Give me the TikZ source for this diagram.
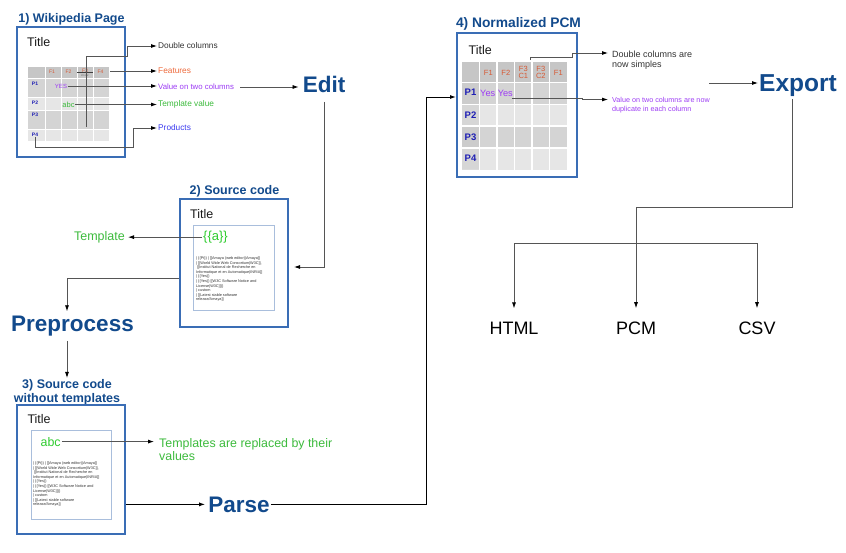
\documentclass[tikz,border=0pt]{standalone}
\usepackage{fontspec}
\setmainfont{Liberation Sans}
\usetikzlibrary{arrows.meta,calc}
\definecolor{ttl}{HTML}{124A8C}
\definecolor{frm}{HTML}{3A6DB5}
\definecolor{inn}{HTML}{A9BEDC}
\definecolor{grn}{HTML}{3DBB3D}
\definecolor{grnb}{HTML}{2ECC2E}
\definecolor{org}{HTML}{EE6A3C}
\definecolor{orgt}{HTML}{D65A36}
\definecolor{prp}{HTML}{9D3DF5}
\definecolor{blu}{HTML}{3B3BF0}
\definecolor{rowb}{HTML}{1E1EB4}
\definecolor{cdark}{HTML}{C6C6C6}
\definecolor{cmid}{HTML}{D4D4D4}
\definecolor{clight}{HTML}{E6E6E6}
\definecolor{lin}{HTML}{555555}
\newcommand\fsz[2]{\fontsize{#1}{#2}\selectfont}
\newcommand\srccode{| \{\{Pt\}\} | [[Amaya (web editor)|Amaya]]\\
| [[World Wide Web Consortium|W3C]],\\{}
[[Institut National de Recherche en\\
Informatique et en Automatique|INRIA]]\\
| \{\{Yes\}\}\\
| \{\{Yes\}\} [[W3C Software Notice and\\
License|W3C]]\}\}\\
| custom\\
| [[Latest stable software\\
release/Amaya]]}
\begin{document}
\begin{tikzpicture}[x=1pt,y=-1pt,
  ar/.style={draw=lin, line width=0.8pt, -{Latex[length=6pt,width=4pt,color=black]}},
  arb/.style={draw=black, line width=1pt, -{Latex[length=6pt,width=4pt,color=black]}},
  bigw/.style={font=\fsz{22.5}{26}\bfseries, text=ttl, inner sep=1pt},
  sect/.style={font=\fsz{12.5}{14}\bfseries, text=ttl, inner sep=0pt},
  frame/.style={draw=frm, line width=1.8pt, inner sep=0pt},
  inbox/.style={draw=inn, line width=0.8pt, inner sep=0pt},
  ttlx/.style={font=\fsz{12.5}{14}, text=black!90, anchor=base west, inner sep=0pt},
  lbl/.style={font=\fsz{8.3}{10}, anchor=west, inner sep=1pt},
  tiny/.style={font=\fsz{3.8}{4.6}, align=left, anchor=north west, inner sep=0pt, text=black!80},
  wf/.style={font=\fsz{5}{6}, text=orgt, inner sep=0pt},
  wp/.style={font=\fsz{5}{6}\bfseries, text=rowb, inner sep=0pt},
  pf/.style={font=\fsz{7.5}{8}, text=orgt, inner sep=0pt, align=center},
  pp/.style={font=\fsz{9.5}{10}\bfseries, text=rowb, inner sep=0pt},
  outn/.style={font=\fsz{18}{20}, text=black, anchor=base, inner sep=1pt}]
\useasboundingbox (0,0) rectangle (846,552);
\fill[white] (0,0) rectangle (846,552);

% ---------- 1) Wikipedia page ----------
\node[sect, anchor=base] (t1) at (71.5,22.7) {1) Wikipedia Page};
\node[frame, minimum width=108pt, minimum height=130pt] (b1) at (71,92) {};
\node[ttlx] (ti1) at (27,46.7) {Title};
\fill[cdark] (28,67) rectangle (109,78);
\fill[cmid] (28,78) rectangle (109,97.5);
\fill[clight] (28,97.5) rectangle (109,110);
\fill[cmid] (28,110) rectangle (109,129.5);
\fill[clight] (28,129.5) rectangle (109,141);
\draw[white, line width=1pt] (45,67)--(45,141) (61,67)--(61,141) (77,67)--(77,141) (93,67)--(93,141)
  (28,78)--(109,78) (28,97.5)--(109,97.5) (28,110)--(109,110) (28,129.5)--(109,129.5);
\node[wf] (wf1) at (52,71.5) {F1};
\node[wf] (wf2) at (68.5,71.5) {F2};
\node[wf] (wf3) at (85,71) {F3};
\node[wf] (wf4) at (100.5,71.5) {F4};
\node[font=\fsz{2.5}{3}, text=black!70, inner sep=0pt] (wc) at (85,75.3) {C1 C2};
\draw[black!75, line width=0.6pt] (77,72.6) -- (93.3,72.6);
\node[wp] (wp1) at (35,84) {P1};
\node[wp] (wp2) at (35,103) {P2};
\node[wp] (wp3) at (35,115) {P3};
\node[wp] (wp4) at (35,135) {P4};
\node[font=\fsz{6}{7}, text=prp, inner sep=0.5pt] (wyes) at (61,86) {YES};
\node[font=\fsz{7.5}{8}, text=grn, inner sep=0.5pt] (wabc) at (68.5,104.5) {abc};
\coordinate (dcA) at (86,127);
\coordinate (featS) at (110,71);

\node[lbl, text=black!80] (dcl) at (157,46) {Double columns};
\node[lbl, text=org] (feat) at (157,71) {Features};
\node[lbl, text=prp, font=\fsz{7.8}{9}] (v2) at (157,87) {Value on two columns};
\node[lbl, text=grn] (tv) at (157,104.5) {Template value};
\node[lbl, text=blu] (prod) at (157,128) {Products};

\draw[ar] (dcA) |- (127,56) |- (dcl.west);
\draw[ar] (featS) -- (featS -| feat.west);
\draw[ar] (wyes.east) -- (wyes.east -| v2.west);
\draw[ar] (wabc.east) -- (wabc.east -| tv.west);
\draw[ar] (wp4.south) |- (133,147) |- (prod.west);

% ---------- Edit ----------
\node[bigw, anchor=base] (edit) at (324,92.5) {Edit};
\draw[ar] ($(v2.east)+(5,0)$) -- ($(v2.east -| edit.west)+(-3,0)$);

% ---------- 2) Source code ----------
\node[sect, anchor=base] (t2) at (234.5,194.3) {2) Source code};
\node[frame, minimum width=108pt, minimum height=128pt] (b2) at (234,263) {};
\node[ttlx] (ti2) at (190,218.3) {Title};
\node[inbox, minimum width=81pt, minimum height=85pt] (i2) at (233.5,267.5) {};
\node[font=\fsz{13}{14}, text=grnb, anchor=base west, inner sep=1pt] (tmpa) at (202,240.5) {\{\{a\}\}};
\node[tiny] (code2) at (196,256.5) {\srccode};
\node[font=\fsz{12.5}{14}, text=grn, anchor=base east, inner sep=0pt] (tmpl) at (125,240.5) {Template};
\draw[ar] (tmpa.west) -- ($(tmpa.west -| tmpl.east)+(3,0)$);
\coordinate (b2in) at (294,267);
\draw[ar] ([yshift=-8pt]edit.south) |- (b2in);

% ---------- Preprocess ----------
\node[bigw, anchor=base] (pre) at (72.5,331) {Preprocess};
\draw[ar] ([yshift=-15pt]b2.west) -| ([xshift=-5.5pt,yshift=3pt]pre.north);

% ---------- 3) Source code without templates ----------
\node[sect, align=center] (t3) at (67,392) {3) Source code\\without templates};
\draw[ar] ([xshift=-5.5pt,yshift=-4pt]pre.south) -- ([yshift=1pt]t3.north);
\node[frame, minimum width=108pt, minimum height=129pt] (b3) at (71,469.5) {};
\node[ttlx] (ti3) at (27.3,423.3) {Title};
\node[inbox, minimum width=80pt, minimum height=89pt] (i3) at (71,474.5) {};
\node[font=\fsz{12.4}{14}, text=grnb, anchor=base west, inner sep=1pt] (abc) at (39.5,446) {abc};
\node[tiny] (code3) at (33,461.5) {\srccode};
\node[font=\fsz{12.4}{13}, text=grn, align=left, anchor=north west, inner sep=0pt] (tpl) at (159,438.3) {Templates are replaced by their\\values};
\draw[ar] (abc.east) -- ($(abc.east -| tpl.west)+(-5,0)$);

% ---------- Parse ----------
\node[bigw, anchor=base] (parse) at (239,512) {Parse};
\draw[arb] (b3.east |- parse.west) -- ([xshift=-2pt]parse.west);
\coordinate (b4knee) at (426,97);
\coordinate (b4in) at (456,97);
\draw[arb] (parse.east) -| (b4knee) -- (b4in);

% ---------- 4) Normalized PCM ----------
\node[sect, anchor=base, font=\fsz{13.8}{15}\bfseries] (t4) at (518.5,27.3) {4) Normalized PCM};
\node[frame, minimum width=120pt, minimum height=144pt] (b4) at (517,105) {};
\node[ttlx] (ti4) at (468.5,54.3) {Title};
\fill[cdark] (462,62) rectangle (567,82.5);
\fill[cmid] (462,82.5) rectangle (567,104.5);
\fill[clight] (462,104.5) rectangle (567,126);
\fill[cmid] (462,126) rectangle (567,148);
\fill[clight] (462,148) rectangle (567,169.5);
\fill[black!20] (462,82.5) rectangle (479.5,104.5) (462,126) rectangle (479.5,148);
\fill[black!16] (462,104.5) rectangle (479.5,126) (462,148) rectangle (479.5,169.5);
\draw[white, line width=1.5pt] (479.5,62)--(479.5,169.5) (497,62)--(497,169.5) (514.5,62)--(514.5,169.5)
  (532,62)--(532,169.5) (549.5,62)--(549.5,169.5)
  (462,82.5)--(567,82.5) (462,104.5)--(567,104.5) (462,126)--(567,126) (462,148)--(567,148);
\node[pf] (pf1) at (488.3,72.5) {F1};
\node[pf] (pf2) at (505.8,72.5) {F2};
\node[pf, font=\fsz{7.5}{7.8}] (pf3) at (523.3,72.5) {F3\\C1};
\node[pf, font=\fsz{7.5}{7.8}] (pf4) at (540.8,72.5) {F3\\C2};
\node[pf] (pf5) at (558.3,72.5) {F1};
\node[pp] (pp1) at (470.5,92.7) {P1};
\node[pp] (pp2) at (470.5,115) {P2};
\node[pp] (pp3) at (470.5,137) {P3};
\node[pp] (pp4) at (470.5,158.5) {P4};
\node[font=\fsz{9.2}{10}, text=prp, anchor=west, inner sep=0pt] (yy) at (480,93) {Yes Yes};
\coordinate (f3top) at (530,60);
\coordinate (yesend) at (512,98);
\node[font=\fsz{9}{10}, text=black!80, align=left, anchor=north west, inner sep=0pt] (dcs) at (612,50.5) {Double columns are\\now simples};
\node[font=\fsz{7.2}{9}, text=prp, align=left, anchor=north west, inner sep=0pt] (v2n) at (612,96.8) {Value on two columns are now\\duplicate in each column};
\draw[ar] (f3top) |- (572,57) |- ($(dcs.north west)+(-4,2.5)$);
\draw[ar] (yesend) -- (582,98) |- ($(v2n.north west)+(-4,2.7)$);

% ---------- Export ----------
\node[bigw, anchor=base, font=\fsz{24.5}{28}\bfseries] (export) at (798,91.7) {Export};
\coordinate (expin) at (709,83);
\draw[ar] (expin) -- (expin -| export.west);
\node[outn] (html) at (514,334) {HTML};
\node[outn] (pcmo) at (636,334) {PCM};
\node[outn] (csv) at (757,334) {CSV};
\coordinate (barknee) at (636,207);
\coordinate (barmid) at (636,243);
\draw[ar] ([xshift=-6pt,yshift=-1pt]export.south) |- (barknee) -- ([yshift=12pt]pcmo.north);
\draw[ar] (barmid) -| ([yshift=12pt]html.north);
\draw[ar] (barmid) -| ([yshift=12pt]csv.north);
\end{tikzpicture}
\end{document}
